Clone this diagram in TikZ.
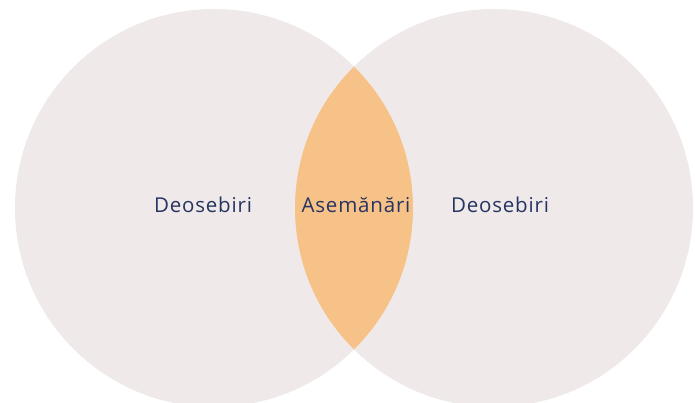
\documentclass[tikz,border=0pt]{standalone}
\usepackage{fontspec}
\setmainfont{Open Sans}[LetterSpace=4]
\definecolor{cerc}{RGB}{240,233,233}
\definecolor{lentila}{RGB}{246,194,136}
\definecolor{text}{RGB}{38,52,98}
\tikzset{eticheta/.style={text=text,font=\fontsize{20.5}{24}\selectfont}}
\begin{document}
\begin{tikzpicture}[x=1pt,y=-1pt]
        \useasboundingbox[fill=white] (0,0) rectangle (695,403);
        % Cercurile
        \fill[cerc] (214,208) circle (199);
        \fill[cerc] (494,208) circle (199);
        
        % Intersectia
        \begin{scope}
            \clip (214,208) circle (199);
            \fill[lentila] (494,208) circle (199);
        \end{scope}
        
        % Etichete
        \node[eticheta] (stanga) at (203,205) {Deosebiri};
        \node[eticheta] (mijloc) at (356,205) {Asemănări};
        \node[eticheta] (dreapta) at (500,205) {Deosebiri};
    \end{tikzpicture}
\end{document}
